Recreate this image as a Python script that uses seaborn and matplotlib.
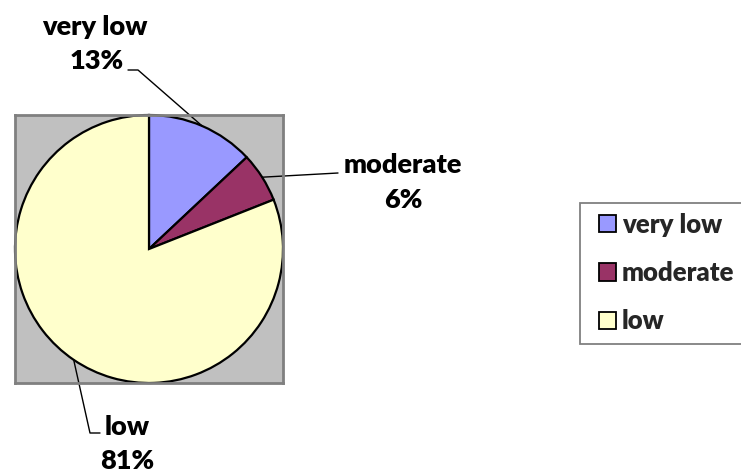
import matplotlib
matplotlib.use("Agg")
import matplotlib.pyplot as plt
import seaborn as sns
import numpy as np
from matplotlib.patches import Patch, Rectangle

# Share of observations per risk level
categories = ["very low", "moderate", "low"]
percentages = [13, 6, 81]
pct_texts = ["13%", "6%", "81%"]

sns.set_theme(style="white")
plt.rcParams["font.family"] = ["Lato", "DejaVu Sans"]

palette = sns.color_palette(["#9999FF", "#993366", "#FFFFCC"])

W, H = 741, 472
fig = plt.figure(figsize=(W / 100, H / 100), dpi=100)
fig.patch.set_facecolor("white")

# Plot area (grey box) in pixel terms
left, top, right, bottom = 15, 115, 283, 383
ax = fig.add_axes([left / W, 1 - bottom / H, (right - left) / W, (bottom - top) / H])

wedges, _ = ax.pie(
    percentages,
    colors=palette,
    startangle=90,
    counterclock=False,
    radius=1.0,
    frame=True,
    wedgeprops=dict(edgecolor="black", linewidth=1.6),
)
ax.set_facecolor("#C0C0C0")
for sp in ax.spines.values():
    sp.set_visible(True)
    sp.set_color("#808080")
    sp.set_linewidth(2)
ax.set_xlim(-1.0, 1.0)
ax.set_ylim(-1.0, 1.0)
ax.set_aspect("auto")
ax.set_xticks([])
ax.set_yticks([])

cx, cy = (left + right) / 2, (top + bottom) / 2
rx, ry = (right - left) / 2, (bottom - top) / 2


def px(x, y):
    """Pixel position -> data coordinates of the pie axes."""
    return ((x - cx) / rx, (cy - y) / ry)


# Wedge mid-angles for leader line anchors
theta = []
start = 90.0
for p in percentages:
    span = 360.0 * p / sum(percentages)
    theta.append(np.deg2rad(start - span / 2))
    start -= span
anchors = [(np.cos(t), np.sin(t)) for t in theta]

line_kw = dict(color="black", linewidth=1.0, clip_on=False)
text_kw = dict(fontsize=19.5, fontweight="heavy", color="black", ha="center",
               va="center", clip_on=False)

# Leader lines (pixel waypoints after the wedge anchor)
leaders = [
    [(138, 70), (128, 70)],
    [(338, 173)],
    [(90, 433), (100, 433)],
]
# Two-line labels: category name, then percentage
label_pos = [
    ((95, 27), (97, 61)),
    ((403, 165), (403, 200)),
    ((127, 427), (127, 461)),
]
for a, pts, (p_name, p_pct), name, pct in zip(anchors, leaders, label_pos,
                                               categories, pct_texts):
    xs = [a[0]] + [px(*q)[0] for q in pts]
    ys = [a[1]] + [px(*q)[1] for q in pts]
    ax.plot(xs, ys, **line_kw)
    ax.text(*px(*p_name), name, **text_kw)
    ax.text(*px(*p_pct), pct, **text_kw)

# Legend frame runs past the right edge of the figure
fig.add_artist(Rectangle((580 / W, 1 - 344 / H), 200 / W, 141 / H,
                         transform=fig.transFigure, facecolor="white",
                         edgecolor="#808080", linewidth=1.3))

handles = [Patch(facecolor=c, edgecolor="black", linewidth=1.3) for c in palette]
leg = fig.legend(
    handles, categories,
    loc="center left",
    bbox_to_anchor=(599 / W, 1 - 273 / H),
    frameon=False,
    prop=dict(size=18.5, weight="heavy"),
    handlelength=0.66, handleheight=0.66, handletextpad=0.22,
    labelspacing=0.95, borderpad=0, borderaxespad=0,
)

fig.savefig("out.png", dpi=100, facecolor="white")
